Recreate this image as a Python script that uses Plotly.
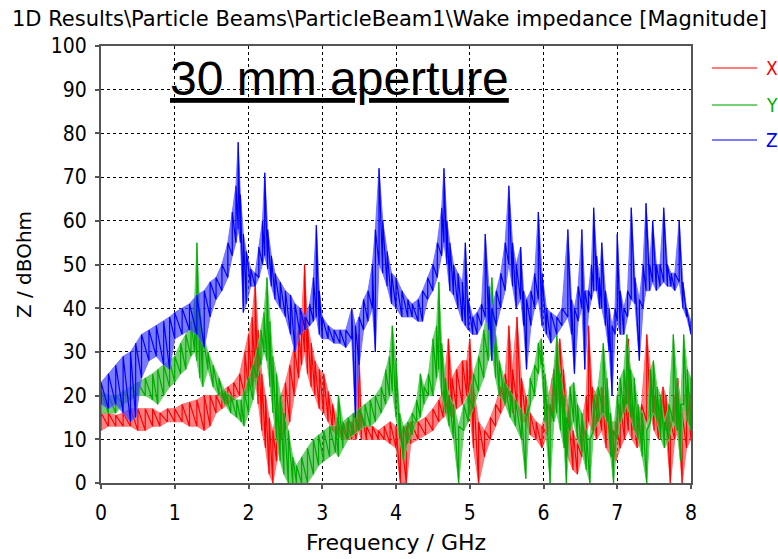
import plotly.graph_objects as go

# ---------------- data ----------------
# Each series: frequency samples (GHz), lower and upper envelope of the dense ripple (dBOhm)
x_freq = [0.00, 0.10, 0.20, 0.30, 0.40, 0.50, 0.60, 0.70, 0.80, 0.90, 1.00, 1.10, 1.20, 1.30, 1.40,
          1.48, 1.56, 1.64, 1.72, 1.80, 1.88, 1.95, 2.00, 2.05, 2.09, 2.13, 2.18, 2.23, 2.28, 2.33,
          2.38, 2.44, 2.50, 2.56, 2.62, 2.68, 2.72, 2.76, 2.80, 2.85, 2.90, 2.96, 3.02, 3.08, 3.14,
          3.20, 3.27, 3.34, 3.40, 3.46, 3.49, 3.53, 3.60, 3.68, 3.76, 3.84, 3.92, 4.00, 4.06, 4.14,
          4.20, 4.30, 4.40, 4.50, 4.58, 4.64, 4.71, 4.76, 4.82, 4.90, 4.96, 5.00, 5.05, 5.12, 5.20,
          5.28, 5.35, 5.42, 5.48, 5.53, 5.58, 5.64, 5.70, 5.76, 5.82, 5.90, 5.98, 6.05, 6.12, 6.18,
          6.22, 6.27, 6.33, 6.40, 6.46, 6.52, 6.58, 6.61, 6.66, 6.72, 6.79, 6.85, 6.92, 6.98, 7.04,
          7.10, 7.15, 7.20, 7.27, 7.33, 7.40, 7.45, 7.50, 7.56, 7.62, 7.66, 7.72, 7.78, 7.82, 7.88,
          7.94, 8.00]
x_lo = [12, 13, 13, 13, 13, 12, 12, 13, 13, 14, 14, 14, 13, 13, 12,
        13, 16, 17, 18, 19, 20, 20, 21, 22, 24, 18, 12, 8, 2, 0,
        5, 10, 12, 14, 20, 24, 27, 30, 25, 22, 20, 17, 16, 14, 12,
        11, 10, 10, 10, 10, 12, 10, 10, 10, 10, 10, 9, 8, 0, 0,
        9, 10, 11, 12, 14, 15, 16, 15, 17, 18, 20, 16, 8, 0, 6,
        10, 13, 16, 18, 20, 16, 18, 14, 14, 11, 10, 8, 11, 15, 18,
        20, 16, 6, 3, 2, 6, 10, 14, 12, 10, 12, 8, 6, 5, 8,
        10, 12, 10, 8, 10, 14, 16, 12, 10, 14, 12, 0, 10, 12, 0,
        8, 10]
x_hi = [16, 16, 15.5, 16, 17, 17, 17, 17, 16, 17, 17, 18, 18.5, 19, 20,
        20, 20, 21, 22, 23, 25, 30, 34, 38, 46, 35, 25, 20, 15, 12,
        16, 20, 23, 27, 31, 35, 38, 50, 36, 32, 28, 26, 25, 21, 18,
        15, 13, 14, 14, 15, 34, 16, 13, 13, 12, 13, 14, 13, 12, 13,
        14, 14, 15, 17, 19, 21, 33, 24, 26, 28, 28, 33, 22, 14, 12,
        15, 18, 22, 25, 36, 26, 38, 24, 20, 16, 14, 13, 18, 24, 30,
        33, 26, 18, 12, 9, 14, 20, 36, 22, 20, 22, 18, 14, 14, 18,
        20, 33, 18, 14, 18, 34, 26, 20, 18, 22, 20, 14, 20, 24, 16,
        22, 20]

y_freq = [0.00, 0.10, 0.20, 0.30, 0.40, 0.50, 0.60, 0.70, 0.77, 0.85, 0.93, 1.00, 1.08, 1.15, 1.22,
          1.27, 1.30, 1.34, 1.38, 1.45, 1.52, 1.60, 1.68, 1.76, 1.84, 1.90, 1.94, 2.00, 2.06, 2.12,
          2.17, 2.21, 2.25, 2.29, 2.33, 2.38, 2.43, 2.48, 2.54, 2.60, 2.65, 2.72, 2.80, 2.88, 2.95,
          3.02, 3.10, 3.18, 3.22, 3.28, 3.35, 3.42, 3.50, 3.58, 3.65, 3.72, 3.80, 3.86, 3.91, 3.95,
          4.00, 4.05, 4.10, 4.16, 4.22, 4.28, 4.33, 4.38, 4.44, 4.50, 4.55, 4.58, 4.62, 4.67, 4.72,
          4.78, 4.85, 4.92, 4.98, 5.05, 5.12, 5.19, 5.25, 5.30, 5.35, 5.40, 5.48, 5.55, 5.62, 5.70,
          5.76, 5.82, 5.88, 5.93, 5.97, 6.02, 6.09, 6.14, 6.18, 6.23, 6.28, 6.31, 6.36, 6.41, 6.46,
          6.52, 6.58, 6.63, 6.68, 6.74, 6.81, 6.86, 6.91, 6.95, 7.00, 7.04, 7.09, 7.13, 7.18, 7.23,
          7.28, 7.34, 7.40, 7.45, 7.49, 7.54, 7.59, 7.64, 7.70, 7.76, 7.81, 7.86, 7.90, 7.95, 8.00]
y_lo = [16, 16, 16, 18, 19, 20, 20, 19, 18, 20, 22, 23, 25, 26, 29,
        30, 28, 24, 22, 26, 22, 20, 18, 16, 15, 14, 13, 16, 19, 24,
        27, 30, 28, 22, 16, 10, 5, 2, 0, 0, 0, 0, 0, 2, 4,
        5, 6, 7, 6, 8, 10, 11, 12, 13, 13, 14, 16, 18, 20, 21,
        15, 10, 5, 9, 11, 14, 15, 18, 20, 20, 24, 26, 20, 16, 13,
        10, 0, 12, 14, 17, 21, 24, 28, 30, 24, 20, 18, 15, 13, 10,
        1, 18, 20, 25, 27, 14, 0, 14, 16, 12, 8, 0, 12, 14, 10,
        7, 3, 0, 12, 14, 16, 14, 6, 0, 10, 14, 16, 18, 15, 12,
        10, 6, 0, 14, 16, 14, 10, 8, 10, 14, 12, 5, 18, 14, 12]
y_hi = [21, 20, 20, 21, 22, 23, 24, 25, 26, 27, 28, 29, 32, 34, 37,
        42, 55, 40, 34, 30, 27, 24, 21, 20, 19, 19, 21, 24, 27, 31,
        35, 39, 47, 37, 29, 25, 20, 16, 12, 6, 4, 6, 8, 10, 11,
        12, 13, 13, 20, 14, 15, 16, 17, 18, 19, 20, 22, 26, 29, 36,
        28, 16, 13, 14, 16, 19, 25, 22, 25, 33, 36, 46, 32, 24, 20,
        18, 13, 18, 20, 25, 29, 35, 40, 47, 34, 28, 23, 21, 19, 17,
        15, 24, 27, 32, 33, 25, 18, 26, 34, 25, 20, 15, 22, 23, 18,
        16, 12, 10, 20, 22, 32, 24, 16, 12, 20, 24, 26, 34, 26, 24,
        18, 16, 12, 26, 28, 22, 20, 14, 18, 34, 24, 18, 34, 26, 24]

z_freq = [0.00, 0.10, 0.20, 0.30, 0.40, 0.47, 0.55, 0.65, 0.75, 0.85, 0.93, 1.00, 1.10, 1.20, 1.30,
          1.40, 1.48, 1.56, 1.64, 1.72, 1.78, 1.83, 1.86, 1.89, 1.93, 1.97, 2.03, 2.09, 2.14, 2.19,
          2.22, 2.26, 2.31, 2.36, 2.43, 2.50, 2.57, 2.63, 2.70, 2.77, 2.83, 2.88, 2.92, 2.96, 3.00,
          3.08, 3.16, 3.24, 3.32, 3.40, 3.45, 3.50, 3.56, 3.62, 3.68, 3.72, 3.77, 3.82, 3.88, 3.94,
          4.00, 4.08, 4.16, 4.22, 4.30, 4.36, 4.43, 4.50, 4.56, 4.62, 4.65, 4.69, 4.73, 4.78, 4.84,
          4.90, 4.94, 4.98, 5.04, 5.10, 5.16, 5.21, 5.26, 5.30, 5.36, 5.42, 5.48, 5.53, 5.58, 5.63,
          5.69, 5.73, 5.77, 5.83, 5.88, 5.93, 5.98, 6.04, 6.10, 6.18, 6.25, 6.33, 6.38, 6.42, 6.47,
          6.52, 6.56, 6.61, 6.65, 6.68, 6.72, 6.76, 6.79, 6.84, 6.89, 6.93, 6.97, 7.00, 7.04, 7.09,
          7.14, 7.19, 7.24, 7.30, 7.35, 7.39, 7.44, 7.48, 7.53, 7.58, 7.63, 7.68, 7.73, 7.78, 7.84,
          7.89, 7.94, 8.00]
z_lo = [18, 17, 18, 16, 14, 15, 24, 28, 29, 27, 26, 33, 34, 35, 34,
        31, 38, 42, 44, 47, 52, 55, 58, 55, 39, 41, 45, 45, 47, 50,
        52, 49, 45, 42, 40, 38, 34, 30, 34, 35, 36, 37, 38, 34, 33,
        33, 32, 32, 31, 33, 15, 27, 35, 37, 40, 30, 50, 48, 45, 41,
        40, 38, 38, 38, 37, 37, 42, 44, 47, 52, 55, 50, 44, 43, 40,
        37, 36, 35, 34, 34, 36, 38, 35, 28, 36, 40, 44, 50, 45, 40,
        42, 36, 26, 36, 40, 42, 36, 34, 32, 34, 36, 38, 34, 25, 37,
        40, 26, 39, 42, 44, 44, 40, 40, 36, 30, 20, 34, 37, 34, 34,
        38, 42, 41, 28, 40, 44, 44, 46, 44, 45, 46, 45, 45, 44, 46,
        40, 38, 34]
z_hi = [23, 25, 27, 29, 30, 32, 34, 35, 36, 37, 38, 39, 40, 41, 43,
        44, 46, 47, 50, 55, 62, 68, 78, 66, 57, 53, 49, 48, 54, 60,
        71, 58, 52, 48, 46, 44, 43, 41, 40, 38, 41, 47, 59, 44, 38,
        36, 35, 35, 35, 40, 36, 38, 42, 44, 50, 58, 72, 60, 53, 48,
        47, 44, 42, 41, 42, 44, 47, 50, 55, 63, 72, 60, 55, 50, 48,
        46, 55, 42, 38, 39, 41, 57, 45, 40, 44, 48, 55, 68, 55, 50,
        54, 44, 42, 44, 48, 62, 48, 40, 39, 38, 40, 58, 42, 40, 45,
        58, 44, 44, 50, 63, 52, 47, 55, 44, 40, 36, 40, 57, 44, 40,
        44, 63, 47, 42, 50, 64, 50, 60, 50, 50, 63, 50, 48, 48, 60,
        46, 40, 37]

series_names = ["X", "Y", "Z"]
x_ticks = [0, 1, 2, 3, 4, 5, 6, 7, 8]
y_ticks = [0, 10, 20, 30, 40, 50, 60, 70, 80, 90, 100]

# ---------------- styling ----------------
styles = {
    "X": dict(full="rgb(255,0,0)", light="rgba(255,110,110,0.9)", fill="rgba(255,60,60,0.65)"),
    "Y": dict(full="rgb(0,170,0)", light="rgba(100,205,100,0.9)", fill="rgba(40,180,40,0.65)"),
    "Z": dict(full="rgb(0,0,255)", light="rgba(110,110,255,0.9)", fill="rgba(60,60,255,0.68)"),
}
data = {"X": (x_freq, x_lo, x_hi), "Y": (y_freq, y_lo, y_hi), "Z": (z_freq, z_lo, z_hi)}

TXT = "DejaVu Sans, sans-serif"
NUM = "DejaVu Sans Condensed, DejaVu Sans, sans-serif"

fig = go.Figure()
for name in series_names:
    f, lo, hi = data[name]
    st = styles[name]
    # upper envelope
    fig.add_trace(go.Scatter(x=f, y=hi, mode="lines", line=dict(color=st["light"], width=1),
                             showlegend=False, hoverinfo="skip"))
    # lower envelope, band filled up to the upper envelope
    fig.add_trace(go.Scatter(x=f, y=lo, mode="lines", line=dict(color=st["light"], width=1),
                             fill="tonexty", fillcolor=st["fill"], showlegend=False, hoverinfo="skip"))
    # ripple: alternate low/high at each sample
    zx, zy = [], []
    for fi, l, h in zip(f, lo, hi):
        zx += [fi, fi]
        zy += [l, h]
    fig.add_trace(go.Scatter(x=zx, y=zy, mode="lines", line=dict(color=st["full"], width=1.2),
                             name=name, showlegend=False))

# ---------------- legend drawn at the right ----------------
leg_y = {"X": 68, "Y": 105, "Z": 140}
W, H = 778, 559
L, R, T, B = 101, 87, 46, 76
pw, ph = W - L - R, H - T - B


def px2paper_x(px):
    return (px - L) / pw


def px2paper_y(py):
    return (H - B - py) / ph


shapes = []
annotations = []
for name in series_names:
    yy = px2paper_y(leg_y[name])
    shapes.append(dict(type="line", xref="paper", yref="paper",
                       x0=px2paper_x(712), x1=px2paper_x(757), y0=yy, y1=yy,
                       line=dict(color=styles[name]["light"], width=2)))
    annotations.append(dict(text=name, xref="paper", yref="paper", x=px2paper_x(764), y=yy,
                            xanchor="left", yanchor="middle", showarrow=False,
                            font=dict(family=NUM, size=19, color=styles[name]["full"])))

annotations.append(dict(text="<u>30 mm aperture</u>", xref="paper", yref="paper",
                        x=px2paper_x(339), y=px2paper_y(78), xanchor="center", yanchor="middle",
                        showarrow=False,
                        font=dict(family="Liberation Sans, Arial, sans-serif", size=48, color="black")))

fig.update_layout(
    width=W, height=H,
    margin=dict(l=L, r=R, t=T, b=B, autoexpand=False),
    paper_bgcolor="white", plot_bgcolor="white",
    showlegend=False,
    font=dict(family=TXT, size=20, color="black"),
    title=dict(text="1D Results\\Particle Beams\\ParticleBeam1\\Wake impedance [Magnitude]",
               x=12 / W, xanchor="left", y=1 - 19 / H, yanchor="middle",
               font=dict(family=TXT, size=21, color="black")),
    shapes=shapes, annotations=annotations,
)
axis_common = dict(showline=True, linecolor="#555555", linewidth=2, mirror=True,
                   showgrid=True, gridcolor="black", gridwidth=1, griddash="3px,3px",
                   ticks="outside", ticklen=4, tickcolor="#555555", tickwidth=1.5,
                   zeroline=False, automargin=False,
                   tickfont=dict(family=NUM, size=21, color="black"))
fig.update_xaxes(range=[0, 8], tickvals=x_ticks, ticktext=[str(v) for v in x_ticks],
                 ticklabelstandoff=6,
                 title=dict(text="Frequency / GHz", standoff=10, font=dict(family=TXT, size=22)),
                 **axis_common)
fig.update_yaxes(range=[0, 100], tickvals=y_ticks, ticktext=[str(v) for v in y_ticks],
                 ticklabelstandoff=4,
                 title=dict(text="Z / dBOhm", standoff=14, font=dict(family=TXT, size=20)),
                 **axis_common)

fig.write_html("out.html")
